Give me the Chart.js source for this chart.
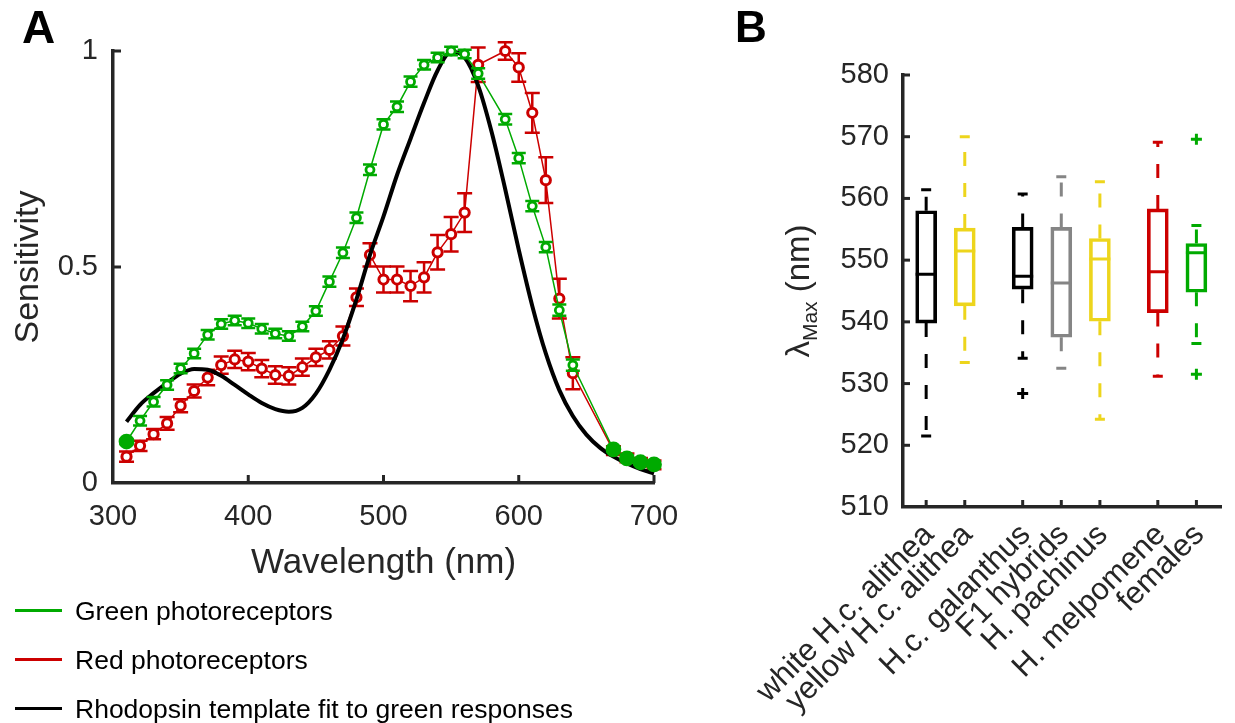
<!DOCTYPE html>
<html>
<head>
<meta charset="utf-8">
<script src="https://cdn.jsdelivr.net/npm/chart.js@4.4.0/dist/chart.umd.min.js"></script>
<style>
html,body{margin:0;padding:0;background:#fff;}
body{width:1235px;height:723px;position:relative;overflow:hidden;font-family:"Liberation Sans",Arial,Helvetica,sans-serif;}
#wrapA{position:absolute;left:0;top:0;width:700px;height:590px;}
#wrapB{position:absolute;left:720px;top:0;width:515px;height:723px;}
.panel{position:absolute;font-weight:bold;line-height:1;color:#000;}
#legend{position:absolute;left:0;top:0;width:700px;height:723px;pointer-events:none;}
.lrow{position:absolute;left:0;height:30px;width:680px;}
.lline{position:absolute;left:15px;width:47px;top:13px;height:3px;}
.ltext{position:absolute;left:75px;top:0;line-height:30px;font-size:26.5px;color:#000;white-space:nowrap;}
</style>
</head>
<body>
<div id="wrapA"><canvas id="chartA" width="700" height="590"></canvas></div>
<div id="wrapB"><canvas id="chartB" width="515" height="723"></canvas></div>
<div class="panel" style="left:22px;top:4px;font-size:46px;">A</div>
<div class="panel" style="left:735px;top:5px;font-size:44px;">B</div>
<div id="legend"></div>
<script>
// ---------------- Panel A data ----------------
const greenWavelengths = [310,320,330,340,350,360,370,380,390,400,410,420,430,440,450,460,470,480,490,500,510,520,530,540,550,560,570,590,600,610,620,630,640,670,680,690,700];
const greenSensitivity = [0.096,0.144,0.188,0.227,0.265,0.300,0.343,0.368,0.376,0.370,0.357,0.346,0.340,0.362,0.398,0.466,0.533,0.614,0.725,0.830,0.871,0.929,0.968,0.985,1.000,0.993,0.948,0.842,0.752,0.641,0.546,0.400,0.273,0.078,0.057,0.048,0.043];
const greenError = [0.006,0.011,0.011,0.011,0.011,0.011,0.011,0.011,0.011,0.011,0.011,0.011,0.011,0.011,0.011,0.012,0.012,0.012,0.012,0.012,0.012,0.012,0.011,0.011,0.01,0.01,0.012,0.012,0.012,0.012,0.012,0.013,0.013,0.006,0.006,0.006,0.006];

const redWavelengths = [310,320,330,340,350,360,370,380,390,400,410,420,430,440,450,460,470,480,490,500,510,520,530,540,550,560,570,590,600,610,620,630,640,670,680,690,700];
const redSensitivity = [0.061,0.086,0.113,0.138,0.179,0.213,0.244,0.273,0.286,0.281,0.265,0.250,0.248,0.268,0.291,0.308,0.340,0.430,0.528,0.471,0.471,0.456,0.476,0.534,0.576,0.626,0.968,1.000,0.962,0.857,0.701,0.427,0.254,0.075,0.058,0.048,0.042];
const redError = [0.012,0.012,0.012,0.015,0.015,0.015,0.018,0.02,0.02,0.02,0.02,0.02,0.02,0.02,0.02,0.02,0.022,0.02,0.027,0.03,0.03,0.035,0.035,0.04,0.04,0.045,0.04,0.02,0.033,0.046,0.053,0.046,0.037,0.01,0.01,0.01,0.01];

const templateWavelengths = [310,320,330,340,350,360,370,380,390,400,410,420,430,440,450,460,470,480,490,500,510,520,530,540,550,560,570,580,590,600,610,620,630,640,650,660,670,680,690,700];
const templateSensitivity = [0.142,0.181,0.208,0.232,0.253,0.264,0.262,0.248,0.227,0.205,0.185,0.171,0.165,0.174,0.207,0.262,0.334,0.425,0.528,0.617,0.713,0.797,0.880,0.955,0.998,0.985,0.920,0.812,0.680,0.540,0.410,0.300,0.215,0.155,0.112,0.082,0.061,0.045,0.032,0.022];

const seriesNames = ['Green photoreceptors','Red photoreceptors','Rhodopsin template fit to green responses'];
const xTicksA = [300,400,500,600,700];
const yTicksA = [0,0.5,1];
const yTickLabelsA = ['0','0.5','1'];

// ---------------- Panel B data ----------------
const groupLabels = ['white H.c. alithea','yellow H.c. alithea','H.c. galanthus','F1 hybrids','H. pachinus','H. melpomene','females'];
const groupPositions = [1,2,3.5,4.5,5.5,7,8];
const whiskerLow  = [521.5,533.4,534.1,532.5,524.2,531.2,536.5];
const quartile1   = [539.8,542.6,545.3,537.5,540.1,541.5,544.8];
const medians     = [547.7,551.5,547.4,546.3,550.2,548.1,551.2];
const quartile3   = [558.0,555.2,555.3,555.3,553.5,558.3,552.7];
const whiskerHigh = [561.4,570.0,560.7,563.5,562.7,569.1,555.6];
const outliers    = [[],[],[528.4],[],[],[],[569.6,531.5]];
const yTicksB = [510,520,530,540,550,560,570,580];

// ---------------- styles ----------------
const GREEN = '#00AA00', RED = '#CC0000', BLACK = '#000000';
const YELLOW = '#EDD51C', GRAY = '#858585';
const groupColors = [BLACK, YELLOW, BLACK, GRAY, YELLOW, RED, GREEN];
const AXIS = '#262626';
const FONT = "'Liberation Sans', Arial, Helvetica, sans-serif";

// ---------------- plugins ----------------
const errorBars = {
  id: 'errorBars',
  beforeDatasetDraw(chart, args) {
    const ds = chart.data.datasets[args.index];
    if (!ds.errors) return;
    const {ctx} = chart; const x = chart.scales.x, y = chart.scales.y;
    ctx.save();
    ctx.strokeStyle = ds.borderColor; ctx.lineWidth = 2.5; ctx.lineCap = 'butt';
    ds.data.forEach((p, i) => {
      const e = ds.errors[i];
      const px = x.getPixelForValue(p.x);
      const yt = y.getPixelForValue(p.y + e), yb = y.getPixelForValue(p.y - e);
      const c = ds.capHalf;
      ctx.beginPath();
      ctx.moveTo(px, yt); ctx.lineTo(px, yb);
      ctx.moveTo(px - c, yt); ctx.lineTo(px + c, yt);
      ctx.moveTo(px - c, yb); ctx.lineTo(px + c, yb);
      ctx.stroke();
    });
    ctx.restore();
  }
};

const innerTicks = {
  id: 'innerTicks',
  afterDraw(chart, args, opts) {
    if (!opts || !opts.len) return;
    const {ctx, chartArea: ca} = chart; const x = chart.scales.x, y = chart.scales.y;
    ctx.save(); ctx.strokeStyle = AXIS; ctx.lineWidth = opts.width; ctx.lineCap = 'butt';
    (opts.x || []).forEach(v => { const px = x.getPixelForValue(v); ctx.beginPath(); ctx.moveTo(px, ca.bottom); ctx.lineTo(px, ca.bottom - opts.len); ctx.stroke(); });
    (opts.y || []).forEach(v => { const py = y.getPixelForValue(v); ctx.beginPath(); ctx.moveTo(ca.left, py); ctx.lineTo(ca.left + opts.len, py); ctx.stroke(); });
    ctx.restore();
  }
};

const categoryLabels = {
  id: 'categoryLabels',
  afterDraw(chart, args, opts) {
    if (!opts || !opts.labels) return;
    const {ctx, chartArea: ca} = chart; const x = chart.scales.x;
    ctx.save();
    ctx.fillStyle = AXIS; ctx.textBaseline = 'middle'; ctx.textAlign = 'right';
    ctx.font = opts.size + 'px ' + FONT;
    opts.labels.forEach((lab, i) => {
      const px = x.getPixelForValue(opts.positions[i]);
      ctx.save();
      ctx.translate(px + opts.dx, ca.bottom + opts.dy);
      ctx.rotate(-Math.PI / 4);
      ctx.fillText(lab, 0, 0);
      ctx.restore();
    });
    ctx.restore();
  }
};

const lambdaTitle = {
  id: 'lambdaTitle',
  afterDraw(chart, args, opts) {
    if (!opts || !opts.show) return;
    const {ctx, chartArea: ca} = chart;
    const segs = [['\u03BB', opts.size, 0], ['Max', opts.sub, opts.subShift], [' (nm)', opts.size, 0]];
    ctx.save();
    ctx.fillStyle = AXIS; ctx.textBaseline = 'alphabetic'; ctx.textAlign = 'left';
    let total = 0; const ws = segs.map(s => { ctx.font = s[1] + 'px ' + FONT; const w = ctx.measureText(s[0]).width; total += w; return w; });
    ctx.translate(opts.cx, (ca.top + ca.bottom) / 2);
    ctx.rotate(-Math.PI / 2);
    let cx = -total / 2;
    segs.forEach((s, j) => { ctx.font = s[1] + 'px ' + FONT; ctx.fillText(s[0], cx, opts.base + s[2]); cx += ws[j]; });
    ctx.restore();
  }
};

Chart.register(errorBars, innerTicks, categoryLabels, lambdaTitle);

// ---------------- Chart A ----------------
const toXY = (xs, ys) => xs.map((v, i) => ({x: v, y: ys[i]}));
const isFilled = w => (w === 310 || w >= 670);
const filledGreen = ctx => isFilled(greenWavelengths[ctx.dataIndex]) ? GREEN : '#ffffff';
const greenRadius = ctx => isFilled(greenWavelengths[ctx.dataIndex]) ? 6.5 : 4;

new Chart(document.getElementById('chartA'), {
  type: 'line',
  data: {
    datasets: [
      { label: seriesNames[0], data: toXY(greenWavelengths, greenSensitivity), errors: greenError, capHalf: 7,
        borderColor: GREEN, borderWidth: 1.5, pointBorderColor: GREEN, pointBackgroundColor: filledGreen,
        pointRadius: greenRadius, pointBorderWidth: 2.8, tension: 0, clip: false },
      { label: seriesNames[2], data: toXY(templateWavelengths, templateSensitivity),
        borderColor: BLACK, borderWidth: 4, pointRadius: 0, cubicInterpolationMode: 'monotone', clip: false },
      { label: seriesNames[1], data: toXY(redWavelengths, redSensitivity), errors: redError, capHalf: 7.5,
        borderColor: RED, borderWidth: 1.5, pointBorderColor: RED, pointBackgroundColor: '#ffffff',
        pointRadius: 4.6, pointBorderWidth: 3, tension: 0, clip: false }
    ]
  },
  options: {
    responsive: false, animation: false, devicePixelRatio: 1,
    layout: { padding: { top: 51, right: 46, left: 0, bottom: 0 } },
    plugins: { legend: { display: false }, tooltip: { enabled: false },
      innerTicks: { len: 8, width: 3, x: xTicksA.slice(1), y: yTicksA.slice(1) } },
    scales: {
      x: { type: 'linear', min: 300, max: 700, offset: false,
        afterFit: s => { s.height = 107; },
        afterBuildTicks: s => { s.ticks = xTicksA.map(v => ({value: v})); },
        grid: { display: false, drawTicks: false },
        border: { display: true, color: AXIS, width: 3.5 },
        ticks: { color: AXIS, font: { family: FONT, size: 29 }, padding: 17, maxRotation: 0 },
        title: { display: true, text: 'Wavelength (nm)', color: AXIS, font: { family: FONT, size: 35 }, padding: { top: 0, bottom: 6 } } },
      y: { type: 'linear', min: 0, max: 1,
        afterFit: s => { s.width = 113; },
        afterBuildTicks: s => { s.ticks = yTicksA.map(v => ({value: v})); },
        grid: { display: false, drawTicks: false },
        border: { display: true, color: AXIS, width: 3.5 },
        ticks: { color: AXIS, font: { family: FONT, size: 29 }, padding: 15, callback: (v, i) => yTickLabelsA[i] },
        title: { display: true, text: 'Sensitivity', color: AXIS, font: { family: FONT, size: 34 }, padding: { top: 8, bottom: 8 } } }
    }
  }
});

// legend (HTML)
const legendColors = [GREEN, RED, BLACK];
const lg = document.getElementById('legend');
seriesNames.forEach((n, i) => {
  const row = document.createElement('div'); row.className = 'lrow'; row.style.top = (596 + i * 49) + 'px';
  const ln = document.createElement('span'); ln.className = 'lline'; ln.style.background = legendColors[i];
  const tx = document.createElement('span'); tx.className = 'ltext'; tx.textContent = n;
  row.appendChild(ln); row.appendChild(tx); lg.appendChild(row);
});

// ---------------- Chart B ----------------
const boxDatasets = [];
boxDatasets.push({ type: 'bar', label: 'box', data: groupPositions.map((p, i) => ({x: p, y: [quartile1[i], quartile3[i]]})),
  backgroundColor: 'rgba(255,255,255,0)', borderColor: groupColors, borderWidth: 3, borderSkipped: false, barThickness: 21, order: 2 });
groupPositions.forEach((p, i) => {
  boxDatasets.push({ type: 'line', label: 'whisker' + i,
    data: [{x: p, y: quartile3[i]}, {x: p, y: whiskerHigh[i]}, {x: p, y: null}, {x: p, y: quartile1[i]}, {x: p, y: whiskerLow[i]}],
    borderColor: groupColors[i], borderWidth: 3, borderDash: [14, 17], pointRadius: 0, spanGaps: false, order: 3 });
});
boxDatasets.push({ type: 'scatter', label: 'median', data: groupPositions.map((p, i) => ({x: p, y: medians[i]})),
  pointStyle: 'line', pointRadius: 10.5, pointBorderWidth: 3, pointBorderColor: groupColors, order: 1 });
boxDatasets.push({ type: 'scatter', label: 'capsHigh', data: groupPositions.map((p, i) => ({x: p, y: whiskerHigh[i]})),
  pointStyle: 'line', pointRadius: 5, pointBorderWidth: 3, pointBorderColor: groupColors, order: 1 });
boxDatasets.push({ type: 'scatter', label: 'capsLow', data: groupPositions.map((p, i) => ({x: p, y: whiskerLow[i]})),
  pointStyle: 'line', pointRadius: 5, pointBorderWidth: 3, pointBorderColor: groupColors, order: 1 });
const outPts = [], outCols = [];
outliers.forEach((arr, i) => arr.forEach(v => { outPts.push({x: groupPositions[i], y: v}); outCols.push(groupColors[i]); }));
boxDatasets.push({ type: 'scatter', label: 'outliers', data: outPts,
  pointStyle: 'cross', pointRadius: 5.5, pointBorderWidth: 3, pointBorderColor: outCols, order: 1 });

new Chart(document.getElementById('chartB'), {
  type: 'bar',
  data: { datasets: boxDatasets },
  options: {
    responsive: false, animation: false, devicePixelRatio: 1,
    layout: { padding: { top: 75, right: 2, left: 0, bottom: 0 } },
    plugins: { legend: { display: false }, tooltip: { enabled: false },
      innerTicks: { len: 7, width: 3, x: groupPositions, y: yTicksB.slice(1) },
      categoryLabels: { labels: groupLabels, positions: groupPositions, size: 31, dx: 3, dy: 23 },
      lambdaTitle: { show: true, cx: 78, size: 33, sub: 21, subShift: 8, base: 11 } },
    scales: {
      x: { type: 'linear', min: 0.4, max: 8.65, offset: false,
        afterFit: s => { s.height = 216; },
        grid: { display: false, drawTicks: false, offset: false },
        border: { display: true, color: AXIS, width: 3.5 },
        ticks: { display: false } },
      y: { type: 'linear', min: 510, max: 580,
        afterFit: s => { s.width = 183; },
        afterBuildTicks: s => { s.ticks = yTicksB.map(v => ({value: v})); },
        grid: { display: false, drawTicks: false },
        border: { display: true, color: AXIS, width: 3.5 },
        ticks: { color: AXIS, font: { family: FONT, size: 29 }, padding: 14 } }
    }
  }
});
</script>
</body>
</html>
